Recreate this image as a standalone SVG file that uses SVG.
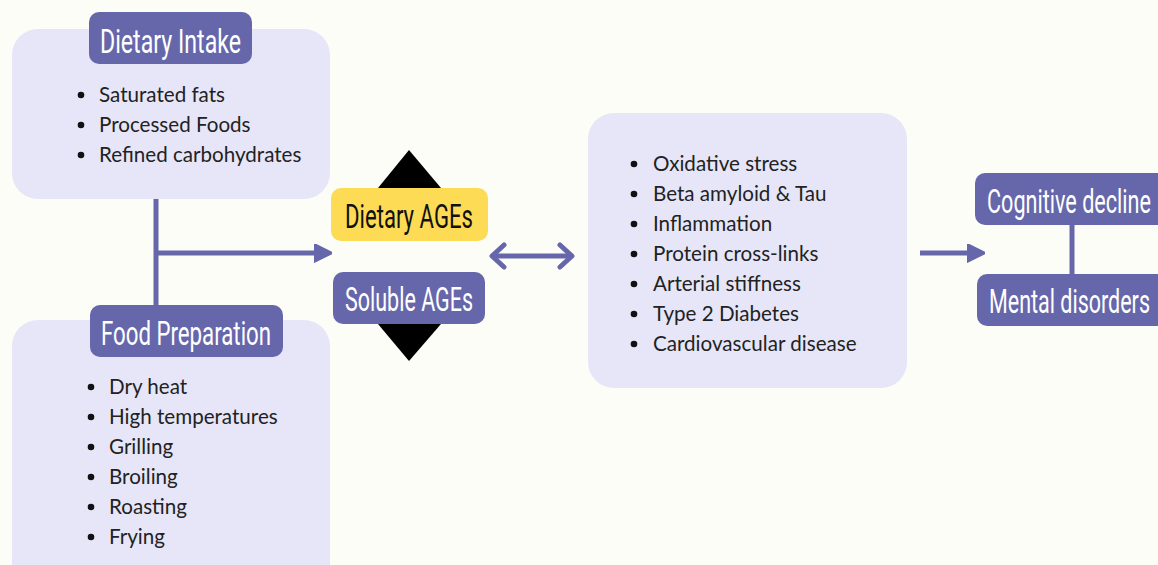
<svg xmlns="http://www.w3.org/2000/svg" width="1158" height="565" viewBox="0 0 1158 565">
<defs>
<style>
.panel{fill:#E6E6F8}
.hdr{fill:#6667AB}
.ht{font-family:Roboto,"Liberation Sans",sans-serif;font-size:33px;fill:#ffffff;dominant-baseline:central}
.hty{font-family:Roboto,"Liberation Sans",sans-serif;font-size:33px;fill:#111111;dominant-baseline:central}
.bt{font-family:Lato,"Noto Sans",sans-serif;font-size:20.6px;fill:#222222;dominant-baseline:central}
.dot{fill:#111111}
.ln{stroke:#6667AB;stroke-width:5;fill:none}
</style>
<marker id="tri" viewBox="0 0 10 10" refX="2" refY="5" markerWidth="3.6" markerHeight="3.8" orient="auto" markerUnits="strokeWidth">
<path d="M0,0 L10,5 L0,10 z" fill="#6667AB" stroke="#6667AB" stroke-width="1" stroke-linejoin="round"/>
</marker>
</defs>
<rect width="1158" height="565" fill="#FDFDF8"/>

<g id="connectors">
<path class="ln" d="M156,199 V305"/>
<path class="ln" d="M156,253 H318" marker-end="url(#tri)"/>
<path class="ln" d="M493,256 H571"/>
<path class="ln" d="M504,245 L492,256 L504,267" stroke-linecap="round" stroke-linejoin="round"/>
<path class="ln" d="M560,245 L572,256 L560,267" stroke-linecap="round" stroke-linejoin="round"/>
<path class="ln" d="M920,253 H971" marker-end="url(#tri)"/>
<path class="ln" d="M1072,225 V274"/>
</g>

<g id="dietary-intake">
<rect class="panel" x="12" y="29" width="318" height="170" rx="26"/>
<rect class="hdr" x="89" y="12" width="163" height="52" rx="10"/>
<text class="ht" x="100" y="41" textLength="141" lengthAdjust="spacingAndGlyphs">Dietary Intake</text>
<circle class="dot" cx="81" cy="95" r="3.3"/>
<circle class="dot" cx="81" cy="125" r="3.3"/>
<circle class="dot" cx="81" cy="155" r="3.3"/>
<text class="bt" x="99" y="94">Saturated fats</text>
<text class="bt" x="99" y="124">Processed Foods</text>
<text class="bt" x="99" y="154">Refined carbohydrates</text>
</g>

<g id="food-preparation">
<rect class="panel" x="12" y="320" width="318" height="270" rx="26"/>
<rect class="hdr" x="90" y="305" width="193" height="52" rx="10"/>
<text class="ht" x="101" y="333" textLength="170" lengthAdjust="spacingAndGlyphs">Food Preparation</text>
<circle class="dot" cx="91" cy="387" r="3.3"/>
<circle class="dot" cx="91" cy="417" r="3.3"/>
<circle class="dot" cx="91" cy="447" r="3.3"/>
<circle class="dot" cx="91" cy="477" r="3.3"/>
<circle class="dot" cx="91" cy="507" r="3.3"/>
<circle class="dot" cx="91" cy="537" r="3.3"/>
<text class="bt" x="109" y="386">Dry heat</text>
<text class="bt" x="109" y="416">High temperatures</text>
<text class="bt" x="109" y="446">Grilling</text>
<text class="bt" x="109" y="476">Broiling</text>
<text class="bt" x="109" y="506">Roasting</text>
<text class="bt" x="109" y="536">Frying</text>
</g>

<g id="dietary-ages">
<path d="M409,150 L441,188 L378,188 z" fill="#000000"/>
<rect x="331" y="188" width="157" height="53" rx="10" fill="#FDDB55"/>
<text class="hty" x="345" y="216" textLength="128" lengthAdjust="spacingAndGlyphs">Dietary AGEs</text>
</g>

<g id="soluble-ages">
<path d="M378,324 L441,324 L409,361 z" fill="#000000"/>
<rect class="hdr" x="333" y="272" width="152" height="52" rx="10"/>
<text class="ht" x="345" y="299" textLength="128" lengthAdjust="spacingAndGlyphs">Soluble AGEs</text>
</g>

<g id="effects">
<rect class="panel" x="588" y="113" width="319" height="275" rx="26"/>
<circle class="dot" cx="634" cy="164" r="3.3"/>
<circle class="dot" cx="634" cy="194" r="3.3"/>
<circle class="dot" cx="634" cy="224" r="3.3"/>
<circle class="dot" cx="634" cy="254" r="3.3"/>
<circle class="dot" cx="634" cy="284" r="3.3"/>
<circle class="dot" cx="634" cy="314" r="3.3"/>
<circle class="dot" cx="634" cy="344" r="3.3"/>
<text class="bt" x="653" y="163">Oxidative stress</text>
<text class="bt" x="653" y="193">Beta amyloid &amp; Tau</text>
<text class="bt" x="653" y="223">Inflammation</text>
<text class="bt" x="653" y="253">Protein cross-links</text>
<text class="bt" x="653" y="283">Arterial stiffness</text>
<text class="bt" x="653" y="313">Type 2 Diabetes</text>
<text class="bt" x="653" y="343">Cardiovascular disease</text>
</g>

<g id="cognitive-decline">
<rect class="hdr" x="975" y="173" width="200" height="52" rx="10"/>
<text class="ht" x="987" y="201" textLength="164" lengthAdjust="spacingAndGlyphs">Cognitive decline</text>
</g>

<g id="mental-disorders">
<rect class="hdr" x="977" y="274" width="200" height="52" rx="10"/>
<text class="ht" x="989" y="301" textLength="161" lengthAdjust="spacingAndGlyphs">Mental disorders</text>
</g>
</svg>
